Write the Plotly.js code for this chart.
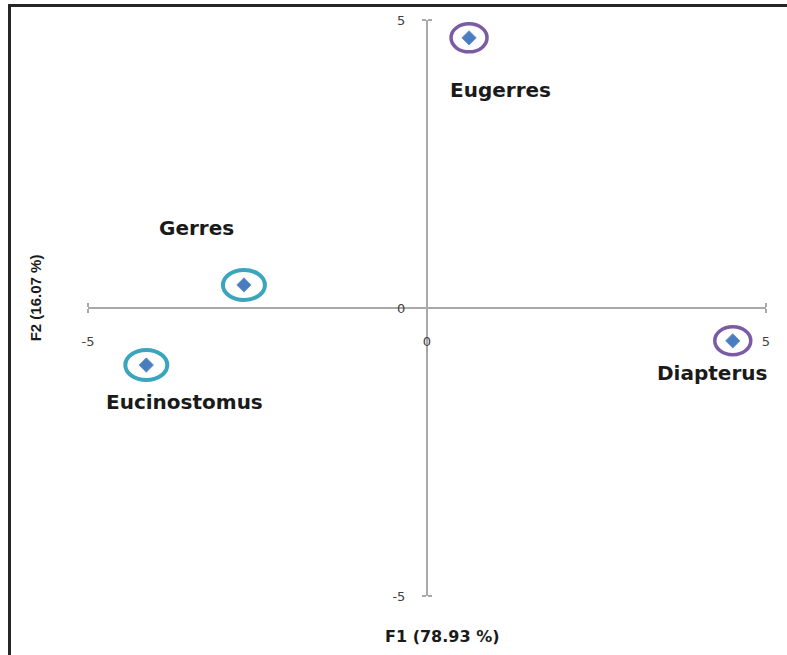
<!DOCTYPE html>
<html>
<head>
<meta charset="utf-8">
<script src="https://cdn.plot.ly/plotly-3.0.1.min.js"></script>
<style>
  html, body { margin: 0; padding: 0; background: #fff; }
  #wrap { position: relative; width: 787px; height: 655px; overflow: hidden; }
  #chart { position: absolute; left: 0; top: 0; width: 787px; height: 655px; }
  #frame { position: absolute; left: 8px; top: 4px; width: 800px; height: 700px;
           border-left: 3px solid #262626; border-top: 3px solid #262626; pointer-events: none; }
</style>
</head>
<body>
<div id="wrap">
  <div id="chart"></div>
  <div id="frame"></div>
</div>
<script>
// ---- data ----
const genera = ['Eugerres', 'Gerres', 'Eucinostomus', 'Diapterus'];
const f1 = [0.62, -2.70, -4.14, 4.51];
const f2 = [4.69, 0.40, -0.99, -0.57];
const group = ['B', 'A', 'A', 'B'];
const tickValues = [-5, 0, 5];
const tickLabels = ['-5', '0', '5'];
const xTitle = 'F1 (78.93 %)';
const yTitle = 'F2 (16.07 %)';

// ---- styles ----
const ringColor = { A: '#3aa5bd', B: '#7b5ba3' };
const ringWidth = { A: 4, B: 3.5 };
const ringSize = { A: [21, 15], B: [18, 14] };
const labelShift = {
  'Eugerres': [31, -52],
  'Gerres': [-47, 57],
  'Eucinostomus': [38, -37],
  'Diapterus': [-21, -32]
};
const axisGray = '#a9a9a9';

const shapes = genera.map((g, i) => ({
  type: 'circle', xref: 'x', yref: 'y',
  xsizemode: 'pixel', ysizemode: 'pixel',
  xanchor: f1[i], yanchor: f2[i],
  x0: -ringSize[group[i]][0], x1: ringSize[group[i]][0],
  y0: -ringSize[group[i]][1], y1: ringSize[group[i]][1],
  line: { color: ringColor[group[i]], width: ringWidth[group[i]] },
  fillcolor: 'rgba(0,0,0,0)', layer: 'below'
}));

const annotations = genera.map((g, i) => ({
  x: f1[i], y: f2[i], xref: 'x', yref: 'y', text: g, showarrow: false,
  xshift: labelShift[g][0], yshift: labelShift[g][1],
  xanchor: 'center', yanchor: 'middle',
  font: { family: 'DejaVu Sans', size: 20, color: '#1a1a1a', weight: 'bold' }
}));
annotations.push({
  xref: 'paper', yref: 'paper', x: 0.522, y: -0.071, text: '<b>' + xTitle + '</b>',
  showarrow: false, xanchor: 'center', yanchor: 'middle',
  font: { family: 'DejaVu Sans', size: 16, color: '#1a1a1a' }
});
annotations.push({
  xref: 'paper', yref: 'paper', x: -0.078, y: 0.517, text: '<b>' + yTitle + '</b>',
  showarrow: false, xanchor: 'center', yanchor: 'middle', textangle: -90,
  font: { family: 'Liberation Sans', size: 15, color: '#1a1a1a' }
});

const axisCommon = {
  range: [-5, 5], showgrid: false, zeroline: false, fixedrange: true,
  anchor: 'free', position: 0.5,
  showline: true, linecolor: axisGray, linewidth: 2,
  tickmode: 'array', tickvals: tickValues, ticktext: tickLabels,
  ticks: 'outside', ticklen: 4, tickwidth: 2, tickcolor: axisGray,
  minor: { tickmode: 'array', tickvals: [-5, 5], ticks: 'inside', ticklen: 4, tickwidth: 2, tickcolor: axisGray },
  tickfont: { family: 'DejaVu Sans', size: 13, color: '#3f3f3f' }
};

const trace = {
  type: 'scatter', mode: 'markers', x: f1, y: f2, text: genera,
  marker: { symbol: 'diamond', size: 11, color: '#4a7dc0', line: { color: '#6b95cf', width: 1 } },
  hoverinfo: 'text', cliponaxis: false
};

const layout = {
  width: 787, height: 655,
  margin: { l: 88, r: 21, t: 20, b: 59 },
  paper_bgcolor: '#ffffff', plot_bgcolor: '#ffffff',
  showlegend: false,
  xaxis: Object.assign({}, axisCommon, { ticklabelstandoff: 17 }),
  yaxis: Object.assign({}, axisCommon, { ticklabelstandoff: 14 }),
  shapes: shapes,
  annotations: annotations
};

Plotly.newPlot('chart', [trace], layout, { displayModeBar: false, staticPlot: true });
</script>
</body>
</html>
